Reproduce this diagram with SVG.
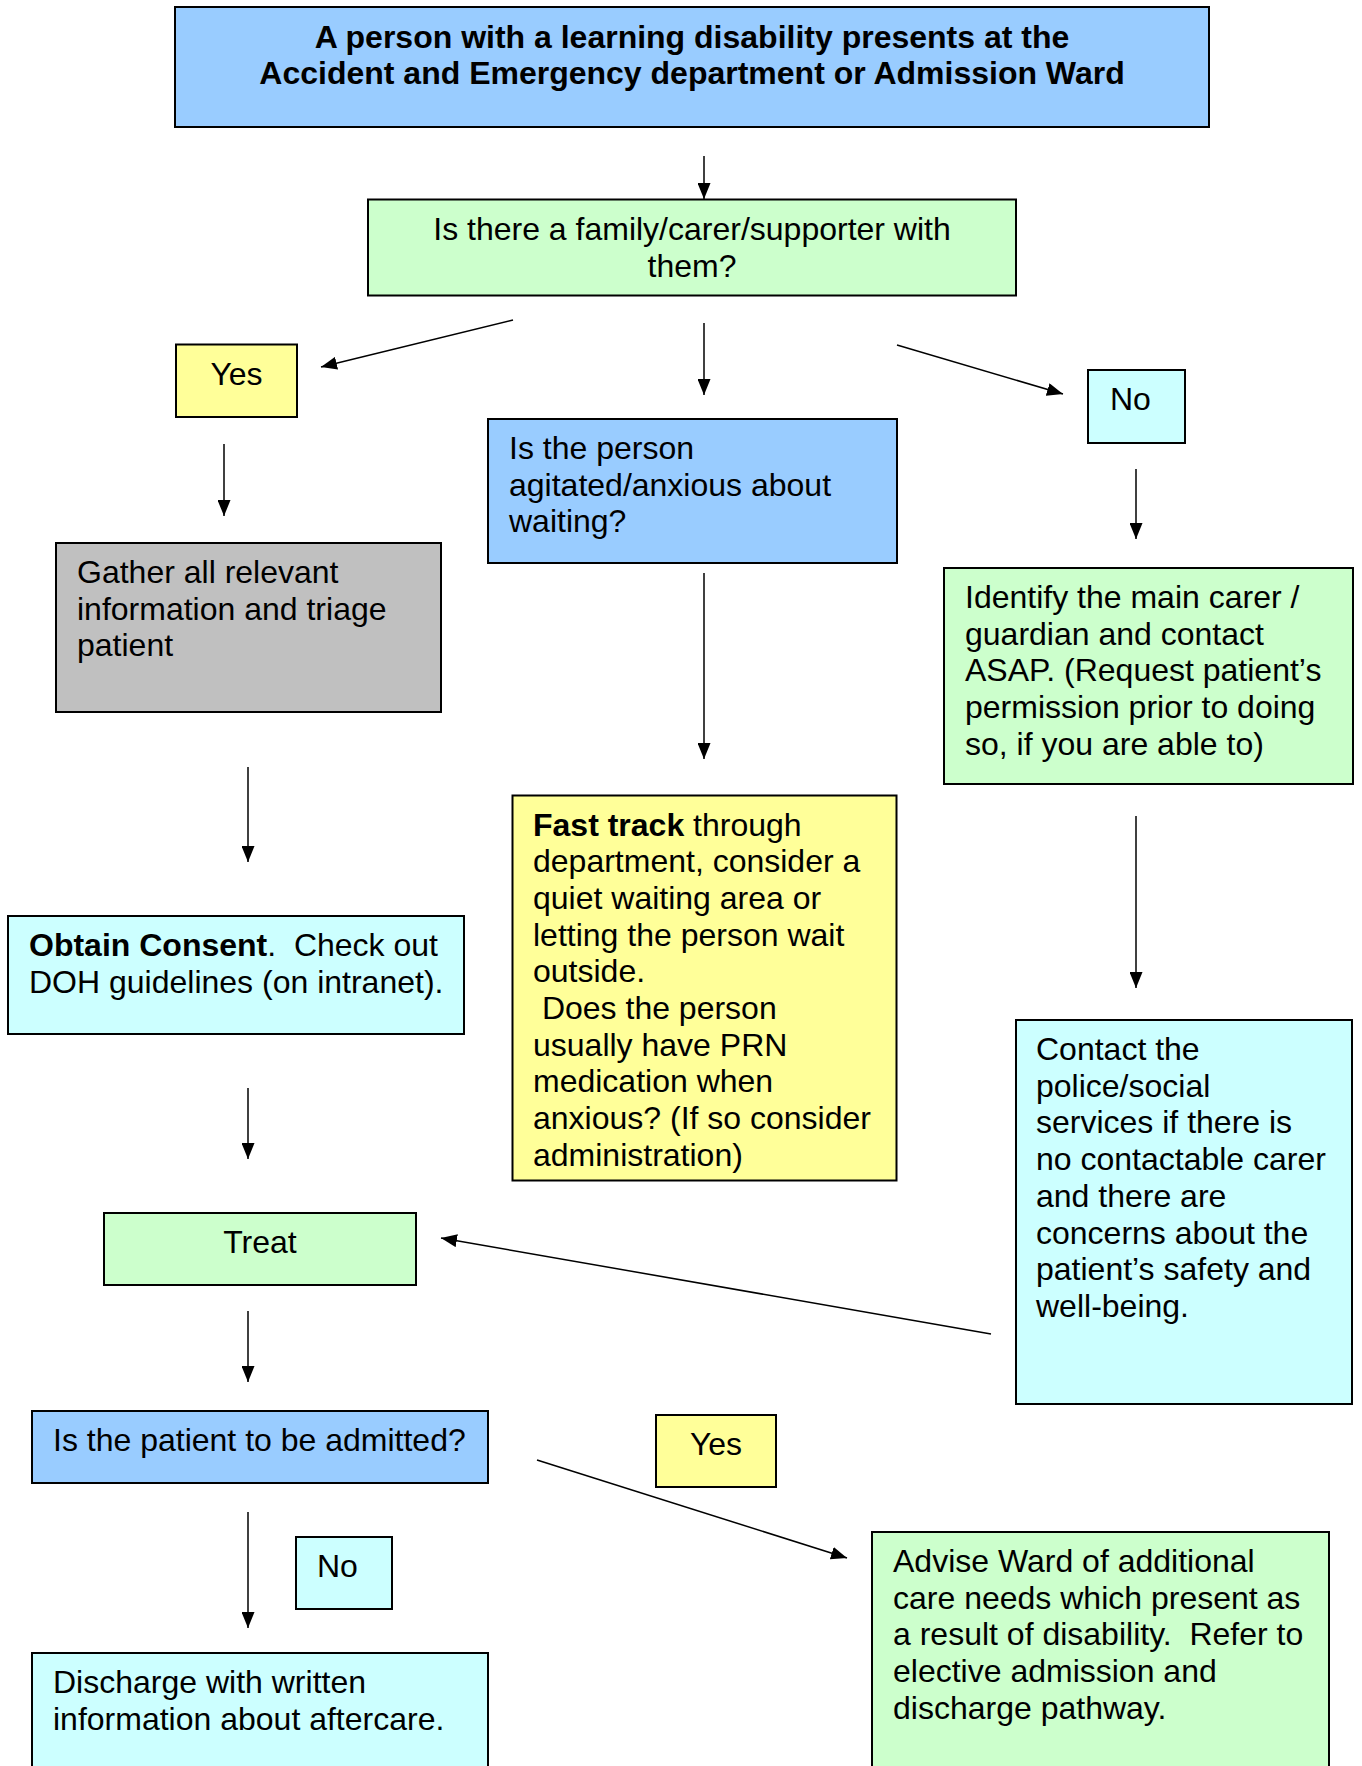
<svg xmlns="http://www.w3.org/2000/svg" width="1362" height="1766" viewBox="0 0 1362 1766">
<style>
  .box{stroke:#000;stroke-width:2}
  .blue{fill:#99CCFF}
  .green{fill:#CCFFCC}
  .yellow{fill:#FFFF99}
  .cyan{fill:#CCFFFF}
  .gray{fill:#C0C0C0}
  text{font-family:"Liberation Sans",Arial,sans-serif;font-size:32px;fill:#000}
  .b{font-weight:bold}
  .c{text-anchor:middle}
  .conn line{stroke:#000;stroke-width:1.5;marker-end:url(#ah)}
</style>
<defs>
  <marker id="ah" viewBox="0 0 16 13" refX="16" refY="6.5" markerWidth="16" markerHeight="13" markerUnits="userSpaceOnUse" orient="auto">
    <path d="M0,0 L16,6.5 L0,13 z" fill="#000"/>
  </marker>
</defs>
<rect width="1362" height="1766" fill="#fff"/>

<g id="n-title">
  <rect class="box blue" x="175" y="7" width="1034" height="120"/>
  <text class="b c" x="692" y="47.5">A person with a learning disability presents at the</text>
  <text class="b c" x="692" y="84">Accident and Emergency department or Admission Ward</text>
</g>
<g id="n-carer">
  <rect class="box green" x="368" y="199.5" width="648" height="96"/>
  <text class="c" x="692" y="240">Is there a family/carer/supporter with</text>
  <text class="c" x="692" y="276.7">them?</text>
</g>
<g id="n-yes1">
  <rect class="box yellow" x="176" y="344.5" width="121" height="72.5"/>
  <text class="c" x="236.5" y="384.5">Yes</text>
</g>
<g id="n-agitated">
  <rect class="box blue" x="488" y="419" width="409" height="144"/>
  <text x="509" y="459">Is the person</text>
  <text x="509" y="495.7">agitated/anxious about</text>
  <text x="509" y="532.4">waiting?</text>
</g>
<g id="n-no1">
  <rect class="box cyan" x="1088" y="370" width="97" height="73"/>
  <text x="1110" y="410">No</text>
</g>
<g id="n-gather">
  <rect class="box gray" x="56" y="543" width="385" height="169"/>
  <text x="77" y="583">Gather all relevant</text>
  <text x="77" y="619.7">information and triage</text>
  <text x="77" y="656.4">patient</text>
</g>
<g id="n-identify">
  <rect class="box green" x="944" y="568" width="409" height="216"/>
  <text x="965" y="608">Identify the main carer /</text>
  <text x="965" y="644.7">guardian and contact</text>
  <text x="965" y="681.4">ASAP. (Request patient’s</text>
  <text x="965" y="718.1">permission prior to doing</text>
  <text x="965" y="754.8">so, if you are able to)</text>
</g>
<g id="n-fasttrack">
  <rect class="box yellow" x="512.5" y="795.5" width="384" height="385"/>
  <text x="533" y="835.5"><tspan class="b">Fast track</tspan> through</text>
  <text x="533" y="872.2">department, consider a</text>
  <text x="533" y="908.9">quiet waiting area or</text>
  <text x="533" y="945.6">letting the person wait</text>
  <text x="533" y="982.3">outside.</text>
  <text x="541.9" y="1019">Does the person</text>
  <text x="533" y="1055.7">usually have PRN</text>
  <text x="533" y="1092.4">medication when</text>
  <text x="533" y="1129.1">anxious? (If so consider</text>
  <text x="533" y="1165.8">administration)</text>
</g>
<g id="n-obtain">
  <rect class="box cyan" x="8" y="916" width="456" height="118"/>
  <text x="29" y="956" xml:space="preserve"><tspan class="b">Obtain Consent</tspan>.  Check out</text>
  <text x="29" y="992.7">DOH guidelines (on intranet).</text>
</g>
<g id="n-contact">
  <rect class="box cyan" x="1016" y="1020" width="336" height="384"/>
  <text x="1036" y="1060">Contact the</text>
  <text x="1036" y="1096.7">police/social</text>
  <text x="1036" y="1133.4">services if there is</text>
  <text x="1036" y="1170.1">no contactable carer</text>
  <text x="1036" y="1206.8">and there are</text>
  <text x="1036" y="1243.5">concerns about the</text>
  <text x="1036" y="1280.2">patient’s safety and</text>
  <text x="1036" y="1316.9">well-being.</text>
</g>
<g id="n-treat">
  <rect class="box green" x="104" y="1213" width="312" height="72"/>
  <text class="c" x="260" y="1253">Treat</text>
</g>
<g id="n-admitted">
  <rect class="box blue" x="32" y="1411" width="456" height="72"/>
  <text x="53" y="1451">Is the patient to be admitted?</text>
</g>
<g id="n-yes2">
  <rect class="box yellow" x="656" y="1415" width="120" height="72"/>
  <text class="c" x="716" y="1455">Yes</text>
</g>
<g id="n-no2">
  <rect class="box cyan" x="296" y="1537" width="96" height="72"/>
  <text x="317" y="1577">No</text>
</g>
<g id="n-discharge">
  <rect class="box cyan" x="32" y="1653" width="456" height="140"/>
  <text x="53" y="1693">Discharge with written</text>
  <text x="53" y="1729.7">information about aftercare.</text>
</g>
<g id="n-advise">
  <rect class="box green" x="872" y="1532" width="457" height="260"/>
  <text x="893" y="1572">Advise Ward of additional</text>
  <text x="893" y="1608.7">care needs which present as</text>
  <text x="893" y="1645.4" xml:space="preserve">a result of disability.  Refer to</text>
  <text x="893" y="1682.1">elective admission and</text>
  <text x="893" y="1718.8">discharge pathway.</text>
</g>

<g id="connectors" class="conn">
  <line x1="704" y1="156" x2="704" y2="199"/>
  <line x1="513" y1="320" x2="321" y2="367"/>
  <line x1="704" y1="323" x2="704" y2="395"/>
  <line x1="897" y1="345" x2="1063" y2="394"/>
  <line x1="224" y1="444" x2="224" y2="516"/>
  <line x1="704" y1="573" x2="704" y2="759"/>
  <line x1="1136" y1="469" x2="1136" y2="539"/>
  <line x1="248" y1="767" x2="248" y2="862"/>
  <line x1="1136" y1="816" x2="1136" y2="988"/>
  <line x1="248" y1="1088" x2="248" y2="1159"/>
  <line x1="991" y1="1334" x2="441" y2="1238"/>
  <line x1="248" y1="1311" x2="248" y2="1382"/>
  <line x1="248" y1="1512" x2="248" y2="1628"/>
  <line x1="537" y1="1460" x2="847" y2="1558"/>
</g>
</svg>
